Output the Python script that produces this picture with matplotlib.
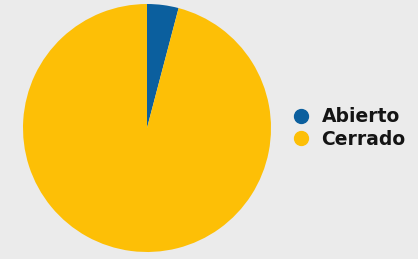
import matplotlib.pyplot as plt
from matplotlib.lines import Line2D

labels = ['Abierto', 'Cerrado']
values = [4.1, 95.9]
colors = ['#0b5f9e', '#fdbf06']

W, H = 418, 259
fig = plt.figure(figsize=(W / 100, H / 100), dpi=100)
fig.patch.set_facecolor('#ebebeb')

# pie: centre ~ (147, 128) px, radius ~ 124 px
cx, cy, r = 147, 128, 124
ax = fig.add_axes([(cx - r) / W, (H - cy - r) / H, 2 * r / W, 2 * r / H])
ax.pie(values, colors=colors, startangle=90, counterclock=False,
       wedgeprops=dict(linewidth=0))
ax.set_xlim(-1, 1)
ax.set_ylim(-1, 1)
ax.set_aspect('equal')
ax.axis('off')

handles = [Line2D([0], [0], marker='o', linestyle='none', markersize=10,
                  markerfacecolor=c, markeredgecolor=c) for c in colors]
leg = fig.legend(handles, labels, loc='center left',
                 bbox_to_anchor=(286 / W, 1 - 128 / H), frameon=False,
                 prop=dict(family='DejaVu Sans', weight='bold', size=13.5),
                 handlelength=0.6, handletextpad=0.8, labelspacing=0.2,
                 borderpad=0)
for t in leg.get_texts():
    t.set_color('#141414')

fig.savefig('out.png', dpi=100, facecolor=fig.get_facecolor())
